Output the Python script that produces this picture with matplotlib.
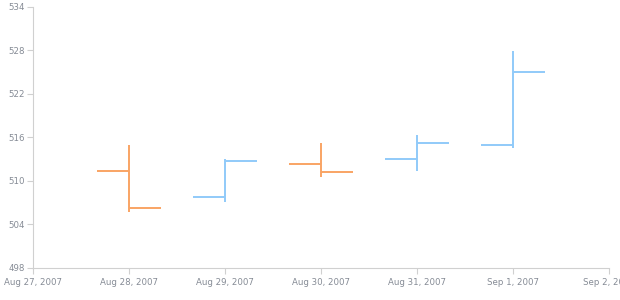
import matplotlib
matplotlib.use("Agg")
import matplotlib.pyplot as plt
import matplotlib.dates as mdates
import datetime as dt

dates = ["2007-08-28", "2007-08-29", "2007-08-30", "2007-08-31", "2007-09-01"]
opens = [511.4, 507.75, 512.3, 513.0, 515.0]
highs = [515.0, 513.1, 515.3, 516.4, 527.9]
lows = [505.7, 507.15, 510.5, 511.4, 514.5]
closes = [506.3, 512.75, 511.25, 515.2, 525.1]

x_ticks = ["2007-08-27", "2007-08-28", "2007-08-29", "2007-08-30", "2007-08-31", "2007-09-01", "2007-09-02"]
x_labels = ["Aug 27, 2007", "Aug 28, 2007", "Aug 29, 2007", "Aug 30, 2007", "Aug 31, 2007", "Sep 1, 2007", "Sep 2, 2007"]
y_ticks = [498, 504, 510, 516, 522, 528, 534]

up_color = "#90CAF9"
down_color = "#F9A464"

fig = plt.figure(figsize=(6.2, 3.0), dpi=100)
ax = fig.add_axes([33/620, 32/300, (609-33)/620, (268-7)/300])

to_num = lambda s: mdates.date2num(dt.datetime.strptime(s, "%Y-%m-%d"))
tick_w = 1/3
for d, o, h, l, c in zip(dates, opens, highs, lows, closes):
    x = to_num(d)
    col = up_color if c >= o else down_color
    ax.plot([x, x], [l, h], color=col, lw=1.4, solid_capstyle="butt")
    ax.plot([x - tick_w, x], [o, o], color=col, lw=1.4, solid_capstyle="butt")
    ax.plot([x, x + tick_w], [c, c], color=col, lw=1.4, solid_capstyle="butt")

xt = [to_num(s) for s in x_ticks]
ax.set_xlim(xt[0], xt[-1])
ax.set_ylim(498, 534)
ax.set_xticks(xt)
ax.set_xticklabels(x_labels)
ax.set_yticks(y_ticks)
ax.set_yticklabels([str(v) for v in y_ticks])

for s in ["top", "right"]:
    ax.spines[s].set_visible(False)
for s in ["left", "bottom"]:
    ax.spines[s].set_color("#d0d0d0")
    ax.spines[s].set_linewidth(0.8)
ax.tick_params(axis="both", colors="#d0d0d0", labelcolor="#858b95", labelsize=6.2, length=4, width=0.8, pad=2)
ax.tick_params(axis="x", pad=3)
for lbl in ax.get_xticklabels():
    lbl.set_clip_on(False)

fig.savefig("out.png", dpi=100)
